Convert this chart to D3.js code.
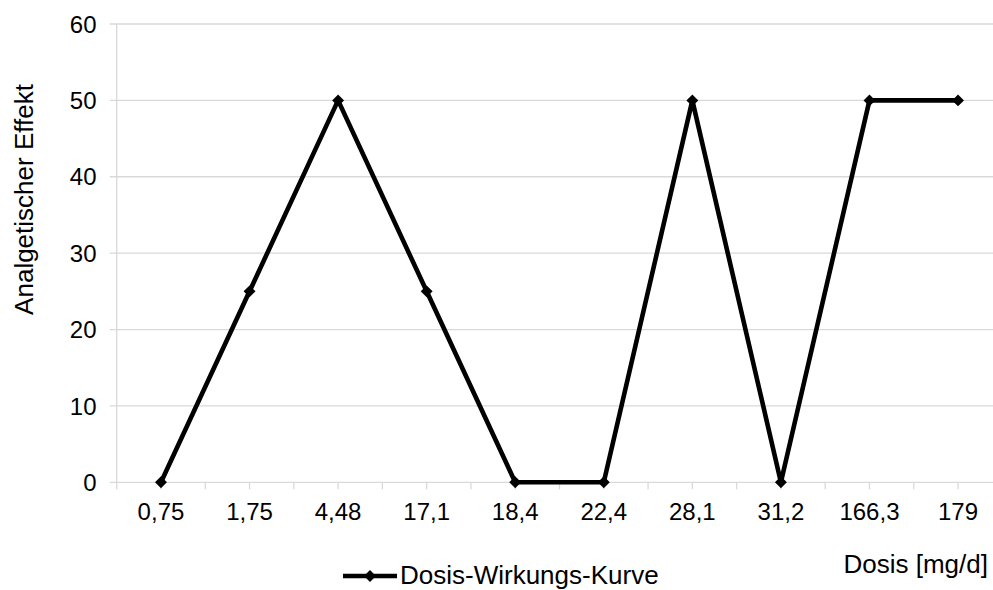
<!DOCTYPE html>
<html>
<head>
<meta charset="utf-8">
<script src="https://cdn.jsdelivr.net/npm/d3@7"></script>
<style>
  html, body { margin: 0; padding: 0; background: #fff; overflow: hidden; }
  svg { display: block; font-family: "Liberation Sans", Arial, sans-serif; }
</style>
</head>
<body>
<svg id="chart" width="993" height="590"></svg>
<script>
// Dose categories (mg/d) and analgesic effect
const categories = ["0,75", "1,75", "4,48", "17,1", "18,4", "22,4", "28,1", "31,2", "166,3", "179"];
const effect = [0, 25, 50, 25, 0, 0, 50, 0, 50, 50];
const yTicks = [0, 10, 20, 30, 40, 50, 60];
const seriesName = "Dosis-Wirkungs-Kurve";
const xTitle = "Dosis [mg/d]";
const yTitle = "Analgetischer Effekt";

const svg = d3.select("#chart");
const plot = { left: 116.7, right: 1002.3, top: 24, bottom: 482.3 };
const gridColor = "#d9d9d9";
const tickFont = 24;
const titleFont = 26;

const x = d3.scaleBand().domain(categories).range([plot.left, plot.right]).padding(0);
const y = d3.scaleLinear().domain([0, 60]).range([plot.bottom, plot.top]);

// horizontal gridlines with short ticks to the left
svg.append("g").selectAll("line").data(yTicks).join("line")
  .attr("x1", plot.left - 7).attr("x2", plot.right)
  .attr("y1", d => y(d)).attr("y2", d => y(d))
  .attr("stroke", gridColor).attr("stroke-width", 1.3);

// vertical axis line
svg.append("line")
  .attr("x1", plot.left).attr("x2", plot.left)
  .attr("y1", plot.top).attr("y2", plot.bottom)
  .attr("stroke", gridColor).attr("stroke-width", 1.3);

// category ticks at boundaries and centers
const tickPos = [];
categories.forEach(c => { tickPos.push(x(c)); tickPos.push(x(c) + x.bandwidth() / 2); });
tickPos.push(plot.right);
svg.append("g").selectAll("line").data(tickPos).join("line")
  .attr("x1", d => d).attr("x2", d => d)
  .attr("y1", plot.bottom).attr("y2", plot.bottom + 7)
  .attr("stroke", gridColor).attr("stroke-width", 1.3);

// y tick labels
svg.append("g").selectAll("text").data(yTicks).join("text")
  .attr("x", 96.5).attr("y", d => y(d))
  .attr("dy", "0.36em")
  .attr("text-anchor", "end")
  .attr("font-size", tickFont).attr("fill", "#000")
  .text(d => d);

// x tick labels
svg.append("g").selectAll("text").data(categories).join("text")
  .attr("x", d => x(d) + x.bandwidth() / 2).attr("y", 519.5)
  .attr("text-anchor", "middle")
  .attr("font-size", tickFont).attr("fill", "#000")
  .text(d => d);

// axis titles
svg.append("text")
  .attr("x", 988).attr("y", 573)
  .attr("text-anchor", "end")
  .attr("font-size", titleFont).attr("fill", "#000")
  .text(xTitle);

svg.append("text")
  .attr("transform", "translate(33,199.5) rotate(-90)")
  .attr("text-anchor", "middle")
  .attr("font-size", titleFont).attr("fill", "#000")
  .text(yTitle);

// series line
const cx = (d, i) => x(categories[i]) + x.bandwidth() / 2;
const line = d3.line().x(cx).y(d => y(d));
svg.append("path").datum(effect)
  .attr("d", line)
  .attr("fill", "none").attr("stroke", "#000")
  .attr("stroke-width", 4.6).attr("stroke-linejoin", "round");

// diamond markers
const diamond = d3.symbol().type(d3.symbolDiamond2).size(90);
svg.append("g").selectAll("path").data(effect).join("path")
  .attr("transform", (d, i) => `translate(${cx(d, i)},${y(d)})`)
  .attr("d", diamond)
  .attr("fill", "#000");

// legend
const lg = svg.append("g");
lg.append("line")
  .attr("x1", 343).attr("x2", 397).attr("y1", 576).attr("y2", 576)
  .attr("stroke", "#000").attr("stroke-width", 4.6);
lg.append("path")
  .attr("transform", "translate(370,576)")
  .attr("d", diamond).attr("fill", "#000");
lg.append("text")
  .attr("x", 400).attr("y", 583.5)
  .attr("font-size", titleFont).attr("fill", "#000")
  .text(seriesName);
</script>
</body>
</html>
